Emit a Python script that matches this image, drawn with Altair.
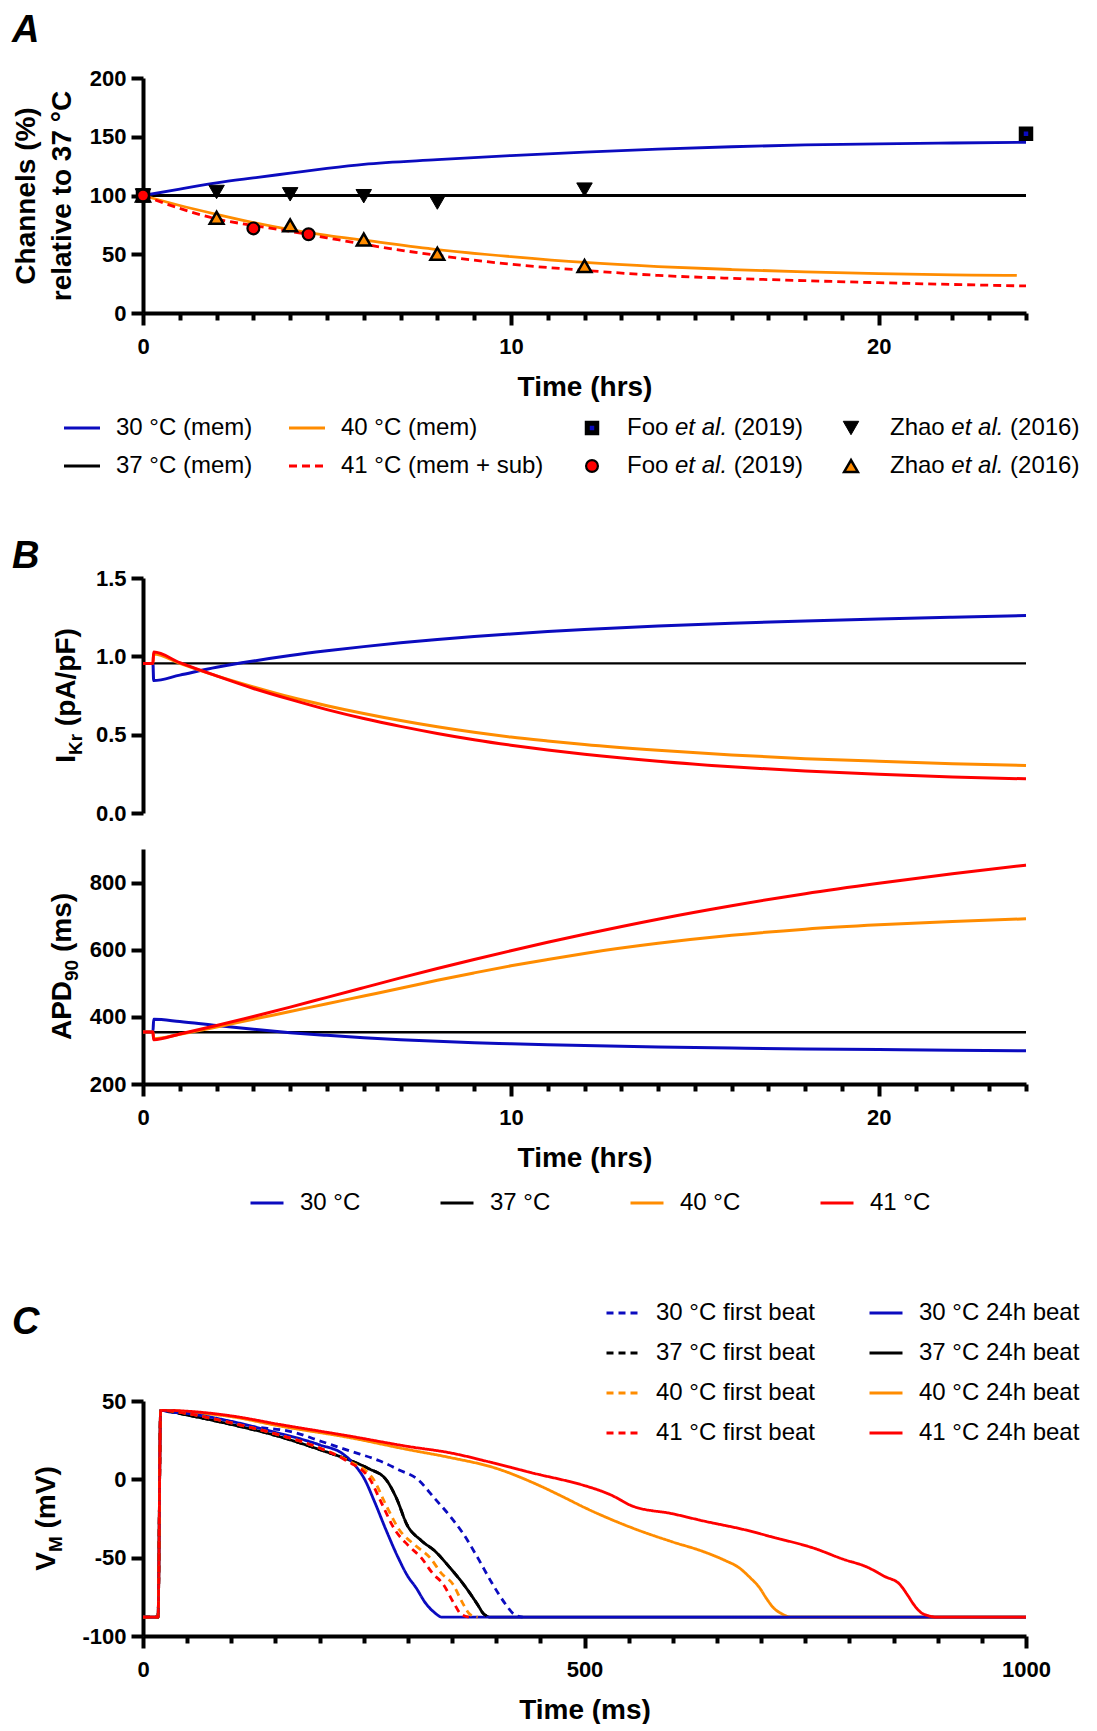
import altair as alt
import pandas as pd

FONT = "Liberation Sans"
BLUE, BLACK, ORANGE, RED = "#0b0bbf", "#000000", "#ff8c00", "#ff0000"

# ---------------- layout (pixels) ----------------
W = 883
H_A, H_B1, H_B2, H_C = 235, 235, 235, 235
GAP, SPACER1, SPACER2 = 36, 193, 245
ONE = pd.DataFrame({"k": [0]})

# ---------------- Panel A data ----------------
A_T = [0, 1, 2, 3, 4, 5, 6, 8, 10, 12, 14, 16, 18, 20, 22, 24]
A_30 = [100, 105.5, 110.8, 115, 119, 123, 126.5, 130.5, 134, 137, 139.5, 141.5, 143, 144, 144.7, 145.3]
A_37_T = [0, 24]
A_37 = [100, 100]
A_40_T = [0, 1, 2, 3, 4, 5, 6, 8, 10, 12, 14, 16, 18, 20, 22, 23.75]
A_40 = [100, 91.5, 84, 77, 71, 66, 62, 54, 48, 43, 39.5, 37, 35, 33.5, 32.5, 32]
A_41 = [100, 89, 80, 74.5, 69.5, 64, 58.5, 49, 41.5, 36.3, 32, 29.5, 27.5, 25.8, 24.3, 23]

FOO_SQ_T = [0, 24]
FOO_SQ = [100, 152.5]
ZHAO_DN_T = [0, 2, 4, 6, 8, 12]
ZHAO_DN = [100, 103, 101, 99.4, 94, 105]
FOO_CI_T = [0, 3, 4.5]
FOO_CI = [100, 72, 67]
ZHAO_UP_T = [0, 2, 4, 6, 8, 12]
ZHAO_UP = [100, 81, 74.6, 62.5, 50.4, 40]

A_LEGEND = ["30 °C (mem)", "40 °C (mem)", "Foo et al. (2019)", "Zhao et al. (2016)",
            "37 °C (mem)", "41 °C (mem + sub)", "Foo et al. (2019)", "Zhao et al. (2016)"]
A_LEGEND_KIND = ["30", "40", "foo_sq", "zhao_dn", "37", "41", "foo_ci", "zhao_up"]

# ---------------- Panel B data ----------------
B_T = [0, 0.27, 0.29, 1, 2, 3, 4, 5, 6, 7, 8, 9, 10, 11, 12, 14, 16, 18, 20, 22, 24]
IKR_30 = [0.955, 0.955, 0.845, 0.88, 0.93, 0.97, 1.005, 1.035, 1.062, 1.086, 1.107, 1.126,
          1.143, 1.158, 1.171, 1.193, 1.211, 1.226, 1.239, 1.25, 1.26]
IKR_37_T = [0, 24]
IKR_37 = [0.955, 0.955]
IKR_40 = [0.955, 0.955, 1.015, 0.955, 0.875, 0.805, 0.74, 0.685, 0.635, 0.59, 0.55, 0.515,
          0.485, 0.46, 0.437, 0.4, 0.37, 0.347, 0.33, 0.315, 0.303]
IKR_41 = [0.955, 0.955, 1.027, 0.96, 0.875, 0.795, 0.725, 0.66, 0.603, 0.553, 0.508, 0.468,
          0.433, 0.402, 0.375, 0.33, 0.295, 0.268, 0.247, 0.23, 0.218]

APD_30 = [355, 355, 393, 386, 374, 363, 353, 345, 338, 332, 327, 323, 320, 317, 314.5,
          310.5, 307, 304.5, 302.5, 300.5, 299]
APD_37_T = [0, 24]
APD_37 = [354, 354]
APD_40 = [355, 355, 335, 348, 370, 393, 416, 439, 462, 485, 509, 531, 552, 571, 589,
          619, 643, 661, 674, 684, 692]
APD_41 = [355, 355, 332, 349, 374, 401, 429, 458, 487, 516, 544, 571, 597, 622, 646,
          691, 731, 767, 798, 826, 852]
B_SERIES = ["30 °C", "37 °C", "40 °C", "41 °C"]
B_COLORS = [BLUE, BLACK, ORANGE, RED]

# ---------------- Panel C data ----------------
C_30F_T = [0, 17, 20, 50, 76, 120, 171, 203, 235, 267, 290, 311, 330, 347, 363, 379, 395, 411, 420, 430]
C_30F_V = [-88, -88, 44, 42, 39, 34, 30, 24, 18, 12, 6, 0, -12, -23, -35, -50, -66, -80, -86, -88]
C_37F_T = [0, 17, 20, 50, 100, 150, 200, 235, 255, 275, 287, 299, 315, 331, 347, 363, 379, 386, 394]
C_37F_V = [-88, -88, 44, 41, 35, 28, 19, 12, 7, 0, -12, -29, -39, -46, -56, -67, -80, -86, -88]
C_40F_T = [0, 17, 20, 50, 100, 150, 200, 232, 261, 274, 290, 308, 325, 338, 351, 362, 370, 379]
C_40F_V = [-88, -88, 44, 42, 36, 29, 20, 12, 0, -15, -32, -42, -50, -60, -67, -79, -86, -88]
C_41F_T = [0, 17, 20, 50, 100, 150, 200, 230, 257, 270, 285, 300, 315, 328, 340, 352, 360, 369]
C_41F_V = [-88, -88, 44, 42, 36, 29, 20, 12, 0, -15, -32, -42, -50, -60, -67, -79, -86, -88]

C_30H_T = [0, 17, 20, 30, 50, 100, 150, 200, 227, 240, 251, 262, 275, 289, 300, 309, 320, 330, 339, 1000]
C_30H_V = [-88, -88, 44, 43, 42, 37, 30, 22, 16, 9, 0, -14, -32, -50, -62, -69, -79, -85, -88, -88]
C_37H_T = [0, 17, 20, 50, 100, 150, 200, 235, 255, 275, 287, 299, 315, 331, 347, 363, 379, 386, 394, 1000]
C_37H_V = [-88, -88, 44, 41, 35, 28, 19, 12, 7, 0, -12, -29, -39, -46, -56, -67, -80, -86, -88, -88]
C_40H_T = [0, 17, 20, 30, 50, 100, 155, 235, 300, 347, 400, 449, 475, 500, 554, 600, 634, 660,
           674, 688, 698, 706, 714, 724, 734, 1000]
C_40H_V = [-88, -88, 44, 44, 43, 40, 34, 26.5, 19, 14, 7, -4, -11, -18, -31, -40, -46, -52,
           -56, -63, -69, -76, -82, -86, -88, -88]
C_41H_T = [0, 17, 20, 30, 50, 100, 155, 235, 300, 347, 400, 449, 480, 500, 530, 554, 600, 634,
           680, 714, 760, 793, 820, 840, 857, 866, 873, 881, 889, 900, 1000]
C_41H_V = [-88, -88, 44, 44, 43.5, 40.5, 35, 27.5, 21, 17, 10, 3, -1, -4, -10, -17, -22, -26.5,
           -32, -37, -44, -51, -56, -62, -67, -74, -80, -85, -87, -88, -88]

# legend fills column by column: first column = first beats, second = 24h beats
C_SERIES = ["30 °C first beat", "37 °C first beat", "40 °C first beat", "41 °C first beat",
            "30 °C 24h beat", "37 °C 24h beat", "40 °C 24h beat", "41 °C 24h beat"]
C_COLORS = [BLUE, BLACK, ORANGE, RED, BLUE, BLACK, ORANGE, RED]
DASH_C = [7, 5]
C_DASHES = [DASH_C, DASH_C, DASH_C, DASH_C, [1, 0], [1, 0], [1, 0], [1, 0]]

# ---------------- styles ----------------
LINE_STYLE = {"30": (BLUE, None), "37": (BLACK, None), "40": (ORANGE, None), "41": (RED, [8, 5])}
POINT_STYLE = {
    "foo_sq": dict(shape="square", fill=BLUE, size=90, strokeWidth=5),
    "zhao_dn": dict(shape="triangle-down", fill=BLACK, size=240, strokeWidth=1),
    "foo_ci": dict(shape="circle", fill=RED, size=140, strokeWidth=2.2),
    "zhao_up": dict(shape="triangle-up", fill=ORANGE, size=190, strokeWidth=2.5),
}

REG = {' ': 278, '°': 400, 'C': 722, '(': 333, ')': 333, 'm': 833, 'e': 556, '+': 584,
       's': 500, 'u': 556, 'b': 556, 'F': 611, 'o': 556, 't': 278, 'a': 556, 'l': 222,
       '.': 278, 'Z': 611, 'h': 556, 'f': 278, 'i': 222, 'r': 333}
BOLD = {'I': 278, 'K': 722, 'r': 389, ' ': 278, '(': 333, 'p': 611, 'A': 722, '/': 278,
        'F': 611, ')': 333, 'P': 667, 'D': 722, 'm': 889, 's': 556, 'V': 667, 'M': 833}


def tw(s, size, table):
    return sum(table.get(c, 556) for c in s) * size / 1000.0


def major_axis(values, major, title):
    test = "datum.value % " + str(major) + " === 0"
    return alt.Axis(values=values,
                    tickSize={"condition": {"test": test, "value": 12}, "value": 7},
                    labelExpr=test + " ? '' + datum.value : ''",
                    labelOverlap=False, labelFlush=False, labelPadding=11,
                    title=title, titlePadding=16)


def static_text(text, x, y, **kw):
    return alt.Chart(ONE).mark_text(text=text, font=FONT, color="black", **kw).encode(
        x=alt.value(x), y=alt.value(y))


def panel_letter(ch, y):
    return static_text(ch, -131, y, fontSize=38, fontWeight="bold", fontStyle="italic",
                       align="left", baseline="alphabetic")


def y_title(parts, center, xpos):
    total = sum(tw(t, s, BOLD) for t, s, _ in parts)
    y0 = center + total / 2.0
    layers, off = [], 0.0
    for t, s, shift in parts:
        lead = len(t) - len(t.lstrip(" "))
        layers.append(alt.Chart(ONE).mark_text(
            text=t.strip(" "), font=FONT, fontSize=s, fontWeight="bold", angle=270,
            align="left", baseline="alphabetic", dx=off + tw(" " * lead, s, BOLD), dy=shift,
            color="black").encode(x=alt.value(xpos), y=alt.value(y0)))
        off += tw(t, s, BOLD)
    return layers


def legend_label(label, x, y):
    if " et al. " in label:
        head, tail = label.split(" et al. ")
        segs = [(head, "normal", 0.0), ("et al.", "italic", tw(head + " ", 24, REG)),
                (tail, "normal", tw(head + " et al. ", 24, REG))]
    else:
        segs = [(label, "normal", 0.0)]
    return [static_text(t, x + dx, y, fontSize=24, fontStyle=st, align="left", baseline="middle")
            for t, st, dx in segs]


# ---------------- Panel A ----------------
xA = alt.X("time_h:Q", scale=alt.Scale(domain=[0, 24], nice=False, zero=False),
           axis=major_axis(list(range(25)), 10, "Time (hrs)"))
yA = alt.Y("pct:Q", scale=alt.Scale(domain=[0, 200], nice=False),
           axis=alt.Axis(values=[0, 50, 100, 150, 200], labelPadding=5,
                         title=["Channels (%)", "relative to 37 °C"], titleLineHeight=36,
                         titlePadding=13))


def a_line(ts, vs, kind):
    color, dash = LINE_STYLE[kind]
    mk = dict(color=color, strokeWidth=2.8, interpolate="monotone")
    if dash:
        mk["strokeDash"] = dash
    return alt.Chart(pd.DataFrame({"time_h": ts, "pct": vs})).mark_line(**mk).encode(x=xA, y=yA)


def a_points(ts, vs, kind):
    st = POINT_STYLE[kind]
    return alt.Chart(pd.DataFrame({"time_h": ts, "pct": vs})).mark_point(
        shape=st["shape"], filled=True, fill=st["fill"], stroke="black",
        strokeWidth=st["strokeWidth"], size=st["size"], opacity=1).encode(x=xA, y=yA)


A_layers = [a_line(A_37_T, A_37, "37"), a_line(A_T, A_30, "30"), a_line(A_40_T, A_40, "40"),
            a_line(A_T, A_41, "41"),
            a_points(ZHAO_UP_T, ZHAO_UP, "zhao_up"), a_points(ZHAO_DN_T, ZHAO_DN, "zhao_dn"),
            a_points(FOO_SQ_T, FOO_SQ, "foo_sq"), a_points(FOO_CI_T, FOO_CI, "foo_ci"),
            panel_letter("A", -36)]

LEG_A_ROWS = [350, 388]
LEG_A_SYM_X = [-61, 164, 449, 708]
LEG_A_TXT_X = [-27, 198, 484, 747]
for i, label in enumerate(A_LEGEND):
    row, col = divmod(i, 4)
    kind = A_LEGEND_KIND[i]
    cx, cy = LEG_A_SYM_X[col], LEG_A_ROWS[row]
    if kind in LINE_STYLE:
        color, dash = LINE_STYLE[kind]
        mk = dict(color=color, strokeWidth=3)
        if dash:
            mk["strokeDash"] = dash
        A_layers.append(alt.Chart(ONE).mark_rule(**mk).encode(
            x=alt.value(cx - 18), x2=alt.value(cx + 18), y=alt.value(cy)))
    else:
        st = POINT_STYLE[kind]
        A_layers.append(alt.Chart(ONE).mark_point(
            shape=st["shape"], filled=True, fill=st["fill"], stroke="black",
            strokeWidth=st["strokeWidth"], size=st["size"], opacity=1).encode(
            x=alt.value(cx), y=alt.value(cy)))
    A_layers += legend_label(label, LEG_A_TXT_X[col], cy)

chartA = alt.layer(*A_layers).properties(width=W, height=H_A)

# ---------------- Panel B ----------------
xB1 = alt.X("time_h:Q", scale=alt.Scale(domain=[0, 24], nice=False, zero=False), axis=None)
yB1 = alt.Y("ikr:Q", scale=alt.Scale(domain=[0, 1.5], nice=False),
            axis=alt.Axis(values=[0, 0.5, 1, 1.5], format=".1f", title=None, labelPadding=5))


def b1_line(ts, vs, color, width=3):
    return alt.Chart(pd.DataFrame({"time_h": ts, "ikr": vs})).mark_line(
        color=color, strokeWidth=width, interpolate="monotone").encode(x=xB1, y=yB1)


B1_layers = [b1_line(IKR_37_T, IKR_37, BLACK, 2.2), b1_line(B_T, IKR_30, BLUE),
             b1_line(B_T, IKR_40, ORANGE), b1_line(B_T, IKR_41, RED),
             panel_letter("B", -10)]
B1_layers += y_title([("I", 28, 0), ("Kr", 19, 7), (" (pA/pF)", 28, 0)], H_B1 / 2.0, -68)
chartB1 = alt.layer(*B1_layers).properties(width=W, height=H_B1)

xB2 = alt.X("time_h:Q", scale=alt.Scale(domain=[0, 24], nice=False, zero=False),
            axis=major_axis(list(range(25)), 10, "Time (hrs)"))
yB2 = alt.Y("apd:Q", scale=alt.Scale(domain=[200, 900], nice=False),
            axis=alt.Axis(values=[200, 400, 600, 800], title=None, labelPadding=5))
legB = alt.Legend(orient="none", legendX=106, legendY=336, direction="horizontal", columns=4,
                  title=None, symbolType="stroke", symbolSize=1089, symbolStrokeWidth=3,
                  labelFont=FONT, labelFontSize=24, labelColor="black", labelOffset=15,
                  columnPadding=73, labelLimit=400, padding=0)
colorB = alt.Color("series:N", scale=alt.Scale(domain=B_SERIES, range=B_COLORS), legend=legB)


def b2_line(ts, vs, name, width=3):
    df = pd.DataFrame({"time_h": ts, "apd": vs, "series": [name] * len(ts)})
    return alt.Chart(df).mark_line(strokeWidth=width, interpolate="monotone").encode(
        x=xB2, y=yB2, color=colorB)


B2_layers = [b2_line(APD_37_T, APD_37, "37 °C", 2.6), b2_line(B_T, APD_30, "30 °C"),
             b2_line(B_T, APD_40, "40 °C"), b2_line(B_T, APD_41, "41 °C")]
B2_layers += y_title([("APD", 28, 0), ("90", 19, 7), (" (ms)", 28, 0)], H_B2 / 2.0, -72)
chartB2 = alt.layer(*B2_layers).properties(width=W, height=H_B2)

# ---------------- Panel C ----------------
xC = alt.X("time_ms:Q", scale=alt.Scale(domain=[0, 1000], nice=False, zero=False),
           axis=major_axis(list(range(0, 1001, 50)), 500, "Time (ms)"))
yC = alt.Y("vm:Q", scale=alt.Scale(domain=[-100, 50], nice=False),
           axis=alt.Axis(values=[-100, -50, 0, 50], labelExpr="'' + datum.value",
                         title=None, labelPadding=5))
legC = alt.Legend(orient="none", legendX=462, legendY=-106, direction="vertical", columns=2,
                  title=None, symbolType="stroke", symbolSize=1089, symbolStrokeWidth=3,
                  labelFont=FONT, labelFontSize=24, labelColor="black", labelOffset=15,
                  columnPadding=48, rowPadding=10, labelLimit=400, padding=0)
colorC = alt.Color("series:N", scale=alt.Scale(domain=C_SERIES, range=C_COLORS), legend=legC)
dashC = alt.StrokeDash("series:N", scale=alt.Scale(domain=C_SERIES, range=C_DASHES), legend=legC)


def c_line(ts, vs, name):
    df = pd.DataFrame({"time_ms": ts, "vm": vs, "series": [name] * len(ts)})
    return alt.Chart(df).mark_line(strokeWidth=2.8, interpolate="monotone").encode(
        x=xC, y=yC, color=colorC, strokeDash=dashC)


C_layers = [c_line(C_37H_T, C_37H_V, "37 °C 24h beat"), c_line(C_40H_T, C_40H_V, "40 °C 24h beat"),
            c_line(C_30H_T, C_30H_V, "30 °C 24h beat"), c_line(C_41H_T, C_41H_V, "41 °C 24h beat"),
            c_line(C_30F_T, C_30F_V, "30 °C first beat"), c_line(C_37F_T, C_37F_V, "37 °C first beat"),
            c_line(C_40F_T, C_40F_V, "40 °C first beat"), c_line(C_41F_T, C_41F_V, "41 °C first beat"),
            panel_letter("C", -67)]
C_layers += y_title([("V", 28, 0), ("M", 19, 7), (" (mV)", 28, 0)], H_C / 2.0, -88)
chartC = alt.layer(*C_layers).properties(width=W, height=H_C)


def spacer(h):
    return alt.Chart(ONE).mark_point(opacity=0).encode(
        x=alt.value(0), y=alt.value(0)).properties(width=W, height=h)


chart = alt.vconcat(chartA, spacer(SPACER1), chartB1, chartB2, spacer(SPACER2), chartC,
                    spacing=GAP, bounds="flush").resolve_scale(
    x="independent", y="independent", color="independent", strokeDash="independent"
).properties(padding={"left": 4, "top": 4, "right": 0, "bottom": 0}).configure_view(
    stroke=None
).configure_axis(
    domainColor="black", domainWidth=4, tickColor="black", tickWidth=4, tickSize=12,
    labelFont=FONT, labelFontSize=22, labelFontWeight="bold", labelColor="black",
    titleFont=FONT, titleFontSize=28, titleFontWeight="bold", titleColor="black", grid=False
)

chart.save("out.html", embed_options={"renderer": "svg", "actions": False})
